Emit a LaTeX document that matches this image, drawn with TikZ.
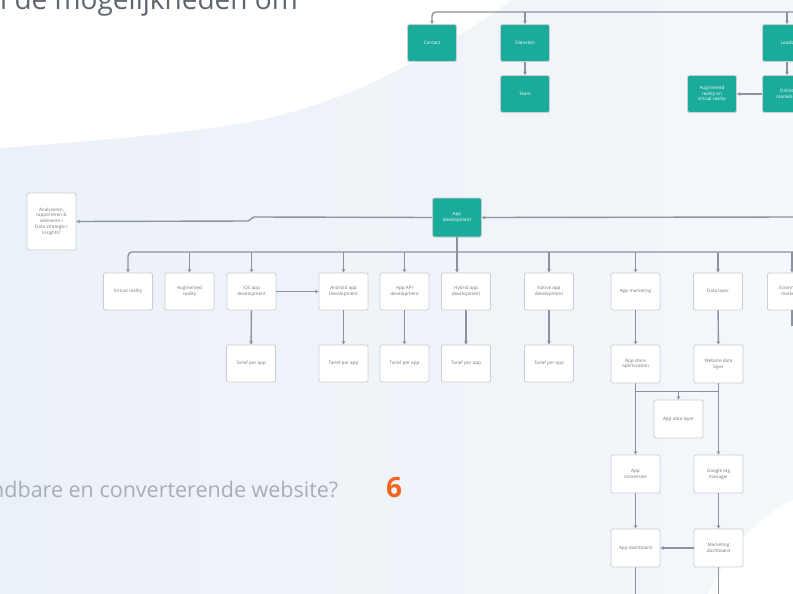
\documentclass[tikz,border=0pt]{standalone}
\usepackage{fontspec}
\setmainfont{Open Sans}
\usetikzlibrary{arrows.meta}
\definecolor{tealc}{HTML}{1AAB9B}
\definecolor{boxline}{HTML}{CACED3}
\definecolor{linec}{HTML}{8C939C}
\definecolor{nodetext}{HTML}{6F757C}
\definecolor{bgleft}{HTML}{EBF1F8}
\definecolor{bgright}{HTML}{F4F7FB}
\definecolor{titlec}{HTML}{5F6670}
\definecolor{questc}{HTML}{A8ADB4}
\definecolor{numc}{HTML}{F26522}
\begin{document}
\begin{tikzpicture}[x=1pt,y=-1pt,
  box/.style={draw=boxline, line width=0.9pt, fill=white, rounded corners=1.5pt,
    minimum width=49pt, minimum height=37pt, inner sep=1pt, align=center,
    font=\fontsize{4.6}{5.8}\selectfont, text=nodetext},
  tbox/.style={box, fill=tealc, text=white},
  conn/.style={draw=linec, line width=1.4pt, rounded corners=4pt, -{Stealth[length=3.5pt,width=3.8pt]}},
  plainline/.style={draw=linec, line width=1.4pt, rounded corners=4pt}]
\useasboundingbox (0,0) rectangle (793,594);
\clip (0,0) rectangle (793,594);
% background
\shade[left color=bgleft, right color=bgright] (0,0) rectangle (793,594);
\fill[white] (0,0) -- (512,0) .. controls (440,50) and (360,100) .. (250,122)
  .. controls (170,135) and (80,142) .. (0,148) -- cycle;
\fill[white] (793,500) .. controls (752,518) and (726,558) .. (708,594) -- (793,594) -- cycle;

% texts
\node[anchor=base west, inner sep=0, font=\fontsize{28}{30}\selectfont, text=titlec] (title) at (0,10) {l de mogelijkheden om};
\node[anchor=base west, inner sep=0, font=\fontsize{21.5}{24}\selectfont, text=questc] (quest) at (-9,497) {ndbare en converterende website?};
\node[anchor=base west, inner sep=0, font=\bfseries\fontsize{28}{30}\selectfont, text=numc] (num) at (386,497) {6};

% top nodes
\node[tbox] (contact) at (432,43) {Contact};
\node[tbox] (diensten) at (525,43) {Diensten};
\node[tbox] (team) at (525,94) {Team};
\node[tbox] (leads) at (787,43) {Leads};
\node[tbox] (arvr) at (712,94) {Augmented\\reality en\\virtual reality};
\node[tbox] (online) at (787,94) {Online\\marketing};

\coordinate (tb) at (800,12);
\draw[conn] (tb) -| (contact.north);
\draw[conn] (diensten.north |- tb) -- (diensten.north);
\draw[conn] (leads.north |- tb) -- (leads.north);
\draw[conn] (diensten) -- (team);
\draw[conn] (leads) -- (online);
\draw[conn] (online) -- (arvr);

% middle
\node[box, minimum height=57pt] (analy) at (51.5,221.5) {Analyseren,\\rapporteren \&\\adviseren /\\Data strategie /\\Insights?};
\node[tbox, minimum height=39pt] (appdev) at (457,217.5) {App\\development};
\coordinate (kink) at (256,217);
\draw[conn, rounded corners=2pt] (appdev.west) -- (kink) -- (252,217) -- (250,221) -- (analy.east);
\coordinate (appR) at (800,217);
\draw[conn] (appR) -- (appdev.east);

% row 2
\node[box] (vr) at (128,291.5) {Virtual reality};
\node[box] (ar) at (189.5,291.5) {Augmented\\reality};
\node[box] (ios) at (251.5,291.5) {iOS app\\development};
\node[box] (android) at (343.5,291.5) {Android app\\Development};
\node[box] (api) at (404.5,291.5) {App API\\development};
\node[box] (hybrid) at (466,291.5) {Hybrid app\\development};
\node[box] (native) at (549,291.5) {Native app\\development};
\node[box] (appmkt) at (635.5,291.5) {App marketing};
\node[box] (datalayer) at (718,291.5) {Data layer};
\node[box] (ecom) at (792,291.5) {Ecommerce\\marketing};

\coordinate (b2R) at (800,252);
\draw[conn] (b2R) -| (vr.north);
\foreach \n in {ar,ios,android,api,native,appmkt,datalayer,ecom}
  \draw[conn] (\n.north |- b2R) -- (\n.north);
\draw[conn] (appdev.south) -- (appdev.south |- hybrid.north);
\draw[conn] (ios) -- (android);
\draw[plainline] (ecom.south) -- ++(0,16);

% row 3
\node[box] (t1) at (251,363.5) {Tarief per app};
\node[box] (t2) at (343.5,363.5) {Tarief per app};
\node[box] (t3) at (404.5,363.5) {Tarief per app};
\node[box] (t4) at (466,363.5) {Tarief per app};
\node[box] (t5) at (549,363.5) {Tarief per app};
\draw[conn] (ios) -- (t1);
\draw[conn] (android) -- (t2);
\draw[conn] (api) -- (t3);
\draw[conn] (hybrid) -- (t4);
\draw[conn] (native) -- (t5);

% right column
\node[box, minimum height=38pt] (aso) at (635.5,364) {App store\\optimization};
\node[box, minimum height=38pt] (wdl) at (718.5,364) {Website data\\layer};
\node[box, minimum height=38pt] (adl) at (678.5,419) {App data layer};
\node[box, minimum height=38pt] (conv) at (635.5,474) {App\\conversies};
\node[box, minimum height=38pt] (gtm) at (718.5,474) {Google tag\\manager};
\node[box, minimum height=38pt] (adash) at (635.5,548) {App dashboard};
\node[box, minimum height=38pt] (mdash) at (718.5,548) {Marketing\\dashboard};

\draw[conn] (appmkt) -- (aso);
\draw[conn] (datalayer) -- (wdl);
\draw[conn] (aso) -- (conv);
\draw[conn] (wdl) -- (gtm);
\path (aso.south) ++(0,8) coordinate (ja);
\path (wdl.south) ++(0,8) coordinate (jb);
\draw[plainline] (ja) -- (jb);
\draw[conn] (adl.north |- ja) -- (adl.north);
\draw[conn] (conv) -- (adash);
\draw[conn] (gtm) -- (mdash);
\draw[conn] (mdash) -- (adash);
\coordinate (adB) at (635.5,600);
\coordinate (mdB) at (718.5,600);
\draw[plainline] (adash.south) -- (adB);
\draw[plainline] (mdash.south) -- (mdB);
\end{tikzpicture}
\end{document}
